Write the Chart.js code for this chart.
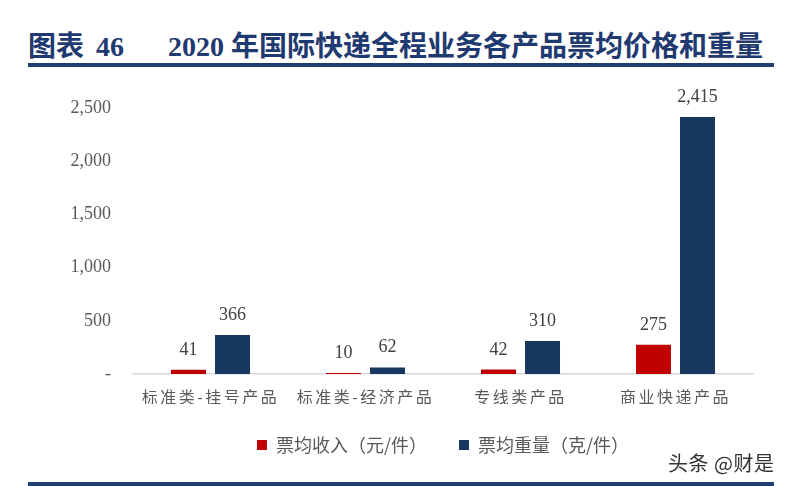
<!DOCTYPE html>
<html>
<head>
<meta charset="utf-8">
<script src="https://cdn.jsdelivr.net/npm/chart.js@4"></script>
<style>
  body { margin: 0; background: #fff; }
  #page { position: relative; width: 789px; height: 486px; overflow: hidden; }
  #title {
    position: absolute; left: 28px; top: 24px; height: 40px; line-height: 40px; white-space: pre;
    font: bold 28px "Liberation Serif", "Noto Sans CJK SC", serif; color: #1F3A70;
  }
  .rule { position: absolute; left: 28px; width: 746px; background: #1F3F73; }
  #wrap { position: absolute; left: 0; top: 75px; width: 789px; height: 400px; }
  #mark {
    position: absolute; left: 668px; top: 448px; letter-spacing: 0.5px;
    font: 20px "Noto Sans CJK SC", sans-serif; color: #333;
    text-shadow: 0 0 2px #fff;
  }
</style>
</head>
<body>
<div id="page">
  <div id="title">图表<span style="margin-left:12px">46</span><span style="margin-left:44px">2020 年国际快递全程业务各产品票均价格和重量</span></div>
  <div class="rule" style="top:63px;height:4px"></div>
  <div id="wrap"><canvas id="chart"></canvas></div>
  <div id="mark">头条 @财是</div>
  <div class="rule" style="top:482px;height:4px"></div>
</div>
<script>
  const categories = ["标准类-挂号产品", "标准类-经济产品", "专线类产品", "商业快递产品"];
  const revenue = [41, 10, 42, 275];     // 票均收入（元/件）
  const weight = [366, 62, 310, 2415];   // 票均重量（克/件）
  const yTicks = [0, 500, 1000, 1500, 2000, 2500];

  const serif = '"Liberation Serif", "Noto Sans CJK SC", serif';
  const cjk = '"Noto Sans CJK SC", sans-serif';

  // numbers over bars, then widen letter spacing for the category labels drawn after
  const barLabels = {
    id: "barLabels",
    afterDatasetsDraw(chart) {
      const ctx = chart.ctx;
      ctx.save();
      ctx.font = "18px " + serif;
      ctx.fillStyle = "#404040";
      ctx.textAlign = "center";
      ctx.textBaseline = "alphabetic";
      chart.data.datasets.forEach((ds, i) => {
        chart.getDatasetMeta(i).data.forEach((bar, j) => {
          ctx.fillText(ds.data[j].toLocaleString("en-US"), bar.x, bar.y - 15);
        });
      });
      ctx.restore();
      ctx.letterSpacing = "2.5px";
    },
    afterDraw(chart) {
      chart.ctx.letterSpacing = "0px";
    }
  };

  new Chart(document.getElementById("chart"), {
    type: "bar",
    data: {
      labels: categories,
      datasets: [
        { label: "票均收入（元/件）", data: revenue, backgroundColor: "#C00000" },
        { label: "票均重量（克/件）", data: weight, backgroundColor: "#17375E" }
      ]
    },
    options: {
      responsive: true,
      maintainAspectRatio: false,
      animation: false,
      categoryPercentage: 0.568,
      barPercentage: 0.795,
      layout: { padding: { top: 33, right: 36, bottom: 11, left: 0 } },
      scales: {
        x: {
          afterFit: axis => { axis.height = 30; },
          grid: { display: false, drawTicks: false },
          border: { color: "#D9D9D9", width: 1.5 },
          ticks: { z: 1, color: "#595959", font: { size: 16, family: cjk }, padding: 13 }
        },
        y: {
          min: 0,
          max: 2500,
          afterBuildTicks: axis => { axis.ticks = yTicks.map(v => ({ value: v })); },
          afterFit: axis => { axis.width = 133; },
          grid: { display: false, drawTicks: false },
          border: { display: false },
          ticks: {
            color: "#595959",
            font: { size: 18, family: serif },
            padding: 22,
            callback: v => v === 0 ? "-" : v.toLocaleString("en-US")
          }
        }
      },
      plugins: {
        legend: {
          position: "bottom",
          fullSize: false,
          labels: {
            color: "#595959",
            font: { size: 18, family: cjk },
            boxWidth: 10,
            boxHeight: 10,
            padding: 32
          }
        },
        tooltip: { enabled: false }
      }
    },
    plugins: [barLabels]
  });
</script>
</body>
</html>
